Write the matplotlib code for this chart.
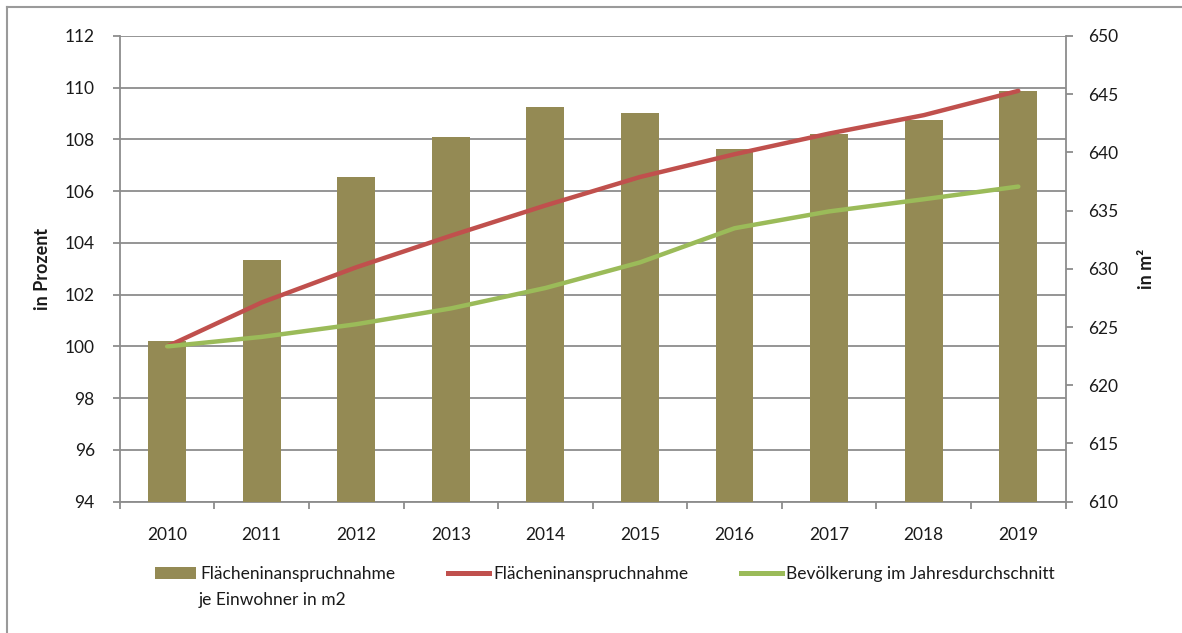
import matplotlib
matplotlib.use("Agg")
import matplotlib.pyplot as plt
from matplotlib.lines import Line2D
from matplotlib.patches import Patch

years = ["2010", "2011", "2012", "2013", "2014", "2015", "2016", "2017", "2018", "2019"]
# Flächeninanspruchnahme je Einwohner in m2 (right axis)
area_per_capita = [623.8, 630.8, 637.9, 641.3, 643.9, 643.4, 640.3, 641.6, 642.8, 645.3]
# index values in percent (left axis)
area_index = [100.0, 101.70, 103.06, 104.28, 105.45, 106.55, 107.43, 108.23, 108.94, 109.88]
population_index = [100.0, 100.37, 100.86, 101.47, 102.26, 103.25, 104.57, 105.22, 105.69, 106.18]

left_ticks = [94, 96, 98, 100, 102, 104, 106, 108, 110, 112]
right_ticks = [610, 615, 620, 625, 630, 635, 640, 645, 650]

BAR = "#948A54"
RED = "#C0504D"
GREEN = "#9BBB59"
GRID = "#8C8C8C"
TXT = "#1a1a1a"

plt.rcParams["font.family"] = ["Lato", "DejaVu Sans"]
plt.rcParams["font.size"] = 12.5

W, H = 1182, 633
fig = plt.figure(figsize=(W / 100, H / 100), dpi=100)

x0, x1, y0, y1 = 119.8, 1065.6, 36, 501.7
pos = [x0 / W, 1 - y1 / H, (x1 - x0) / W, (y1 - y0) / H]

# base axes: grid + left scale
ax = fig.add_axes(pos)
ax.set_ylim(94, 112)
ax.set_xlim(-0.5, len(years) - 0.5)
ax.set_yticks(left_ticks)
ax.yaxis.grid(True, color=GRID, lw=1.3)
ax.set_axisbelow(True)
for s in ["top", "right"]:
    ax.spines[s].set_visible(False)
for s in ["left", "bottom"]:
    ax.spines[s].set_color(GRID)
    ax.spines[s].set_linewidth(1.3)
ax.tick_params(axis="y", length=5, width=1.3, color=GRID, pad=13, labelcolor=TXT)
ax.set_xticks(range(len(years)))
ax.set_xticklabels(years)
ax.set_xticks([i - 0.5 for i in range(len(years) + 1)], minor=True)
ax.tick_params(axis="x", which="major", length=0, pad=18, labelcolor=TXT)
ax.tick_params(axis="x", which="minor", length=5, width=1.3, color=GRID)
ax.set_ylabel("in Prozent", fontweight="bold", labelpad=10, color=TXT, fontsize=13)

# bars on right scale
axb = ax.twinx()
axb.set_ylim(610, 650)
axb.set_yticks(right_ticks)
axb.bar(range(len(years)), area_per_capita, width=0.4, color=BAR, zorder=2)
for s in ["top", "left", "bottom"]:
    axb.spines[s].set_visible(False)
axb.spines["right"].set_color(GRID)
axb.spines["right"].set_linewidth(1.3)
axb.tick_params(axis="y", length=5, width=1.3, color=GRID, pad=11, labelcolor=TXT)
axb.set_ylabel("in m²", fontweight="bold", labelpad=14, color=TXT, fontsize=13)

# lines on left scale
axl = ax.twinx()
axl.set_ylim(94, 112)
axl.axis("off")
axl.plot(range(len(years)), area_index, color=RED, lw=3.2, solid_capstyle="round")
axl.plot(range(len(years)), population_index, color=GREEN, lw=3.2, solid_capstyle="round")

# legend: one entry each, placed like the original
entries = [
    (Patch(facecolor=BAR, edgecolor="none"), "Flächeninanspruchnahme", 155),
    (Line2D([], [], color=RED, lw=3.6), "Flächeninanspruchnahme", 448),
    (Line2D([], [], color=GREEN, lw=3.6), "Bevölkerung im Jahresdurchschnitt", 741),
]
for h, lab, xp in entries:
    leg = fig.legend([h], [lab], loc="center left", bbox_to_anchor=(xp / W, 1 - 574 / H),
                     frameon=False, handlelength=2.35, handleheight=0.65,
                     handletextpad=0.25, borderaxespad=0, borderpad=0)
    for t in leg.get_texts():
        t.set_color(TXT)
fig.text(199 / W, 1 - 600 / H, "je Einwohner in m2", ha="left", va="center", color=TXT)

# outer frame (left and top edges)
fig.add_artist(Line2D([7 / W, 7 / W], [0, 1 - 7 / H], color="#9a9a9a", lw=1.5))
fig.add_artist(Line2D([7 / W, 1], [1 - 7 / H, 1 - 7 / H], color="#9a9a9a", lw=1.5))

fig.savefig("out.png", dpi=100)
